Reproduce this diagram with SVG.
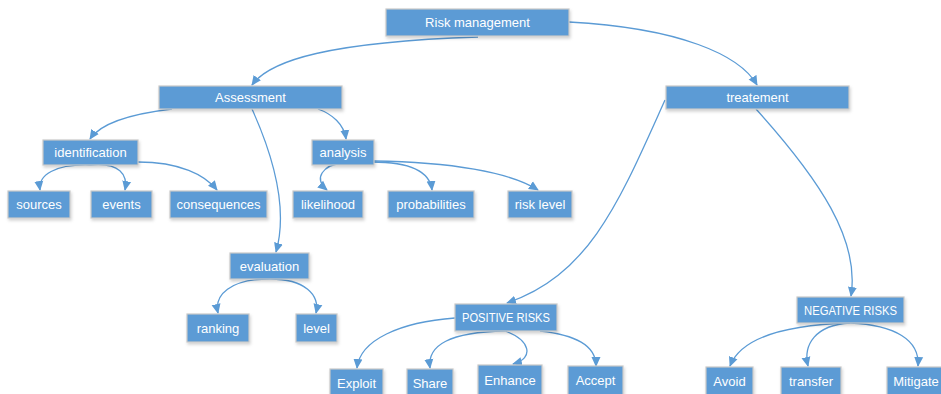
<svg xmlns="http://www.w3.org/2000/svg" width="941" height="394" viewBox="0 0 941 394">
<defs>
<marker id="arr" markerUnits="userSpaceOnUse" markerWidth="10" markerHeight="10" viewBox="0 0 10 10" refX="9" refY="5" orient="auto">
<path d="M0,0.5 L10,5 L0,9.5 Z" fill="#5B9BD5"/>
</marker>
<filter id="sh" x="-10%" y="-20%" width="130%" height="160%">
<feDropShadow dx="1" dy="2" stdDeviation="1.5" flood-color="#000" flood-opacity="0.18"/>
</filter>
</defs>
<style>
.n rect{fill:#5B9BD5;stroke:#C8C8C8;stroke-width:1.2;filter:url(#sh)}
.n text{fill:#FFFFFF;font-family:"Liberation Sans",Arial,sans-serif;font-size:13px;text-anchor:middle;dominant-baseline:central}
.c path{fill:none;stroke:#5B9BD5;stroke-width:1.3;marker-end:url(#arr)}
</style>
<rect width="941" height="394" fill="#FFFFFF"/>
<g class="c" id="connectors">
<path d="M478,37 C330,42 270,60 252,85"/>
<path d="M569,22 C680,28 740,55 757,85"/>
<path d="M172,109 C130,114 100,124 90,139"/>
<path d="M318,109 C332,114 344,124 346,139"/>
<path d="M252,109 C275,160 288,210 276,252"/>
<path d="M665,100 C620,200 590,275 507,303"/>
<path d="M756,109 C820,180 860,240 851,296"/>
<path d="M90,165 C55,164 38,175 40,190"/>
<path d="M90,165 C120,162 128,175 125,190"/>
<path d="M138,162 C180,162 205,175 217,190"/>
<path d="M343,163 C323,165 313,178 327,190"/>
<path d="M372,162 C410,162 430,172 432,190"/>
<path d="M374,161 C450,162 510,172 538,190"/>
<path d="M270,279 C230,279 214,295 218,313"/>
<path d="M270,279 C305,279 320,295 316,313"/>
<path d="M455,318 C400,322 360,340 357,368"/>
<path d="M505,331 C450,332 427,345 430,368"/>
<path d="M505,331 C530,340 535,358 513,364"/>
<path d="M540,331 C575,335 596,345 596,366"/>
<path d="M850,323 C780,325 740,340 730,366"/>
<path d="M850,323 C815,325 803,345 808,366"/>
<path d="M850,323 C895,325 920,340 918,366"/>
</g>
<g class="n" id="risk-management"><rect x="386" y="9" width="183" height="27"/><text x="477.5" y="22.5">Risk management</text></g>
<g class="n" id="assessment"><rect x="159" y="86" width="183" height="23"/><text x="250.5" y="97.5">Assessment</text></g>
<g class="n" id="treatement"><rect x="666" y="86" width="183" height="23"/><text x="757.5" y="97.5">treatement</text></g>
<g class="n" id="identification"><rect x="43" y="140" width="95" height="25"/><text x="90.5" y="152.5">identification</text></g>
<g class="n" id="analysis"><rect x="312" y="140" width="62" height="25"/><text x="343" y="152.5">analysis</text></g>
<g class="n" id="sources"><rect x="8" y="191" width="62" height="27"/><text x="39" y="204.5">sources</text></g>
<g class="n" id="events"><rect x="91" y="191" width="61" height="27"/><text x="121.5" y="204.5">events</text></g>
<g class="n" id="consequences"><rect x="170" y="191" width="97" height="27"/><text x="218.5" y="204.5">consequences</text></g>
<g class="n" id="likelihood"><rect x="293" y="191" width="70" height="27"/><text x="328" y="204.5">likelihood</text></g>
<g class="n" id="probabilities"><rect x="388" y="191" width="86" height="27"/><text x="431" y="204.5">probabilities</text></g>
<g class="n" id="risk-level"><rect x="508" y="191" width="64" height="27"/><text x="540" y="204.5">risk level</text></g>
<g class="n" id="evaluation"><rect x="230" y="253" width="79" height="26"/><text x="269.5" y="266">evaluation</text></g>
<g class="n" id="ranking"><rect x="187" y="314" width="62" height="28"/><text x="218" y="328">ranking</text></g>
<g class="n" id="level"><rect x="296" y="314" width="41" height="28"/><text x="316.5" y="328">level</text></g>
<g class="n" id="positive-risks"><rect x="455" y="304" width="102" height="27"/><text x="506" y="317.5" textLength="88" lengthAdjust="spacingAndGlyphs">POSITIVE RISKS</text></g>
<g class="n" id="negative-risks"><rect x="797" y="297" width="107" height="26"/><text x="850.5" y="310" textLength="93" lengthAdjust="spacingAndGlyphs">NEGATIVE RISKS</text></g>
<g class="n" id="exploit"><rect x="330" y="369" width="53" height="30"/><text x="356.5" y="383">Exploit</text></g>
<g class="n" id="share"><rect x="407" y="369" width="46" height="30"/><text x="430" y="383">Share</text></g>
<g class="n" id="enhance"><rect x="478" y="365" width="64" height="30"/><text x="510" y="380">Enhance</text></g>
<g class="n" id="accept"><rect x="568" y="366" width="55" height="30"/><text x="595.5" y="380">Accept</text></g>
<g class="n" id="avoid"><rect x="706" y="367" width="47" height="30"/><text x="729.5" y="381">Avoid</text></g>
<g class="n" id="transfer"><rect x="781" y="367" width="60" height="30"/><text x="811" y="381">transfer</text></g>
<g class="n" id="mitigate"><rect x="887" y="367" width="70" height="30"/><text x="916" y="381">Mitigate</text></g>
</svg>
